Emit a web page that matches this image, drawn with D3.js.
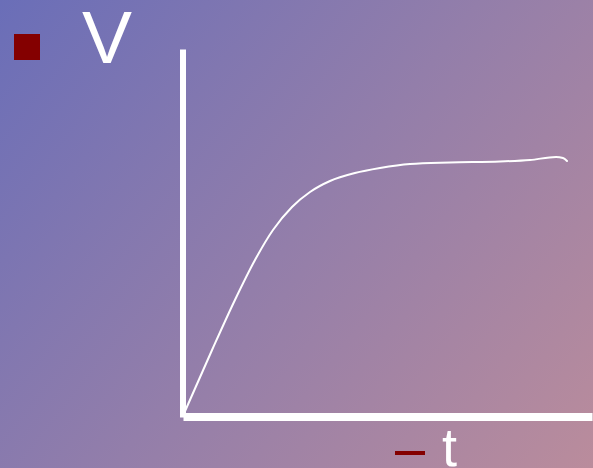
<!DOCTYPE html>
<html>
<head>
<meta charset="utf-8">
<script src="https://cdn.jsdelivr.net/npm/d3@7"></script>
<style>
  html, body { margin: 0; padding: 0; overflow: hidden; }
  svg { display: block; }
</style>
</head>
<body>
<script>
// Charging curve: voltage V rising and levelling off over time t
const timeValues = [0.5, 7.1, 12.7, 17.6, 22.0, 26.65, 31.05, 35.94, 42.05, 48.17, 55.5, 65.28, 77.51, 84.84, 91.2, 92.91, 93.89];
const voltageValues = [1.6, 18.2, 31.8, 42.66, 50.82, 57.07, 61.14, 64.13, 66.3, 67.66, 68.75, 69.16, 69.43, 69.84, 70.65, 70.38, 69.57];
const yAxisLabel = "V";
const xAxisLabel = "t";

const width = 593, height = 468;

const svg = d3.select("body").append("svg")
  .attr("width", width)
  .attr("height", height);

// diagonal background gradient
const defs = svg.append("defs");
const grad = defs.append("linearGradient")
  .attr("id", "bg")
  .attr("gradientUnits", "userSpaceOnUse")
  .attr("x1", 0).attr("y1", 0)
  .attr("x2", width).attr("y2", height);
grad.append("stop").attr("offset", "0%").attr("stop-color", "#6a6eb8");
grad.append("stop").attr("offset", "50%").attr("stop-color", "#937eaa");
grad.append("stop").attr("offset", "100%").attr("stop-color", "#ba8c9c");

svg.append("rect")
  .attr("width", width).attr("height", height)
  .attr("fill", "url(#bg)");

// scales
const x = d3.scaleLinear().domain([0, 100]).range([183, 592]);
const y = d3.scaleLinear().domain([0, 100]).range([417, 49]);

// axes: bare white lines, no ticks
const xAxis = d3.axisBottom(x).tickValues([]).tickSizeOuter(0);
const yAxis = d3.axisLeft(y).tickValues([]).tickSizeOuter(0);

svg.append("g")
  .attr("transform", `translate(${x(0) - 0.5},0)`)
  .call(yAxis)
  .select(".domain")
  .attr("stroke", "#ffffff")
  .attr("stroke-width", 6);

svg.append("g")
  .attr("transform", `translate(0,${y(0) - 0.5})`)
  .call(xAxis)
  .select(".domain")
  .attr("stroke", "#ffffff")
  .attr("stroke-width", 8);

// the curve
const points = timeValues.map((t, i) => [t, voltageValues[i]]);
const line = d3.line()
  .x(d => x(d[0]))
  .y(d => y(d[1]))
  .curve(d3.curveMonotoneX);

svg.append("path")
  .datum(points)
  .attr("d", line)
  .attr("fill", "none")
  .attr("stroke", "#ffffff")
  .attr("stroke-width", 2)
  .attr("stroke-linecap", "round");

// bullet and V label
svg.append("rect")
  .attr("x", 14).attr("y", 34)
  .attr("width", 26).attr("height", 26)
  .attr("fill", "#840000");

svg.append("text")
  .attr("x", 82).attr("y", 63)
  .attr("font-family", "'Liberation Sans', Arial, sans-serif")
  .attr("font-size", 75)
  .attr("fill", "#ffffff")
  .text(yAxisLabel);

// dash and t label
svg.append("rect")
  .attr("x", 395).attr("y", 451)
  .attr("width", 30).attr("height", 4)
  .attr("fill", "#840000");

svg.append("text")
  .attr("x", 442).attr("y", 466)
  .attr("font-family", "'Liberation Sans', Arial, sans-serif")
  .attr("font-size", 54)
  .attr("fill", "#ffffff")
  .text(xAxisLabel);
</script>
</body>
</html>
